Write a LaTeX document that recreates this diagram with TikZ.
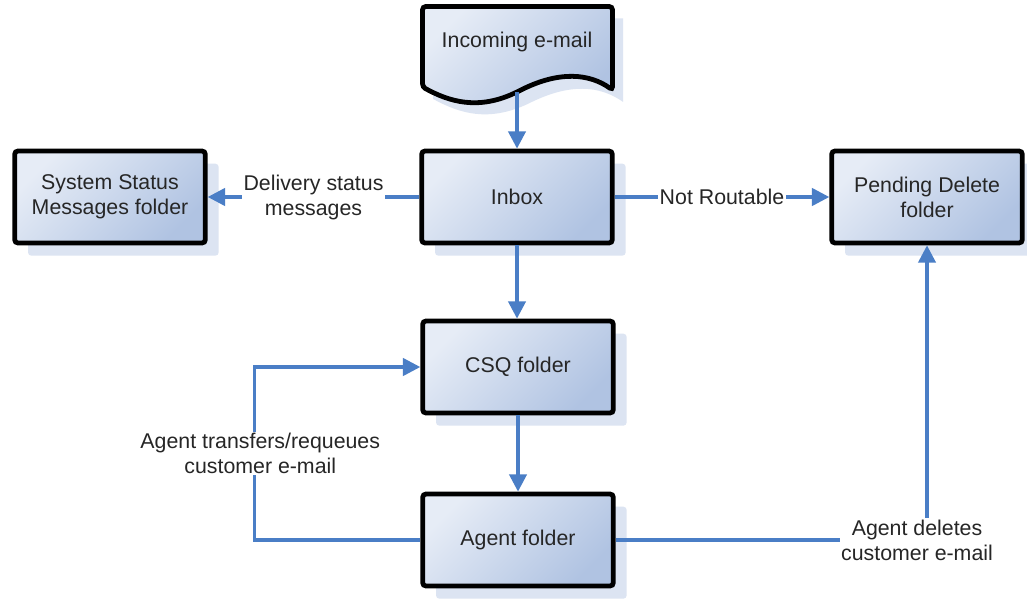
\documentclass[tikz,border=0pt]{standalone}
\usepackage{fontspec}
\setmainfont{Liberation Sans}
\usetikzlibrary{arrows.meta,shadows}
\definecolor{boxlight}{HTML}{E6ECF6}
\definecolor{boxdark}{HTML}{B0C3E2}
\definecolor{shadowc}{HTML}{DCE4F2}
\definecolor{arrowc}{HTML}{4A7EC6}
\definecolor{textc}{HTML}{262626}
\begin{document}
\begin{tikzpicture}[x=0.75pt,y=-0.75pt,
  txt/.style={font=\fontsize{16}{18.75}\selectfont, text=textc, align=center},
  fbox/.style={txt, draw=black, line width=3.6pt, rounded corners=2.5pt,
    minimum width=143pt, minimum height=69pt,
    top color=boxlight, bottom color=boxdark, shading angle=45,
    general shadow={shadow xshift=10pt, shadow yshift=-9.5pt, fill=shadowc, draw=none}},
  conn/.style={draw=arrowc, line width=2.5pt, -{Triangle[length=13pt,width=13pt]}},
  lbl/.style={txt, fill=white, inner sep=1pt}
]
\useasboundingbox (0,0) rectangle (1027,599);
\fill[white] (0,0) rectangle (1027,599);
% incoming e-mail document shape
\def\wavepath{(422.5,6.5) -- (612.5,6.5) -- (612.5,90) .. controls (590,74) and (560,70) .. (517,92) .. controls (478,110) and (450,102) .. (422.5,87) -- cycle}
\fill[shadowc, xshift=8pt, yshift=-9pt] \wavepath;
\draw[line width=3.6pt, top color=boxlight, bottom color=boxdark, shading angle=45, rounded corners=2.5pt] \wavepath;
\node[txt] (inc) at (517,42) {Incoming e-mail};
\coordinate (incb) at (517,92);

\node[fbox] (inbox) at (517,197) {Inbox};
\node[fbox] (sys) at (110,197) {System Status\\Messages folder};
\node[fbox] (pend) at (927,197) {Pending Delete\\folder};
\node[fbox] (csq) at (518,367) {CSQ folder};
\node[fbox] (agent) at (518,540) {Agent folder};

\draw[conn] (incb) -- (inbox);
\draw[conn] (inbox) -- node[lbl]{Delivery status\\messages} (sys);
\draw[conn] (inbox) -- node[lbl]{Not Routable} (pend);
\draw[conn] (inbox) -- (inbox |- csq.north);
\draw[conn] (csq) -- (agent);
\draw[conn] (agent.west) -- ++(-166,0) |- node[lbl,pos=0.25,xshift=4.5pt]{Agent transfers/requeues\\customer e-mail} (csq.west);
\draw[conn] (agent.east) -| node[lbl,pos=0.5,xshift=-7.5pt]{Agent deletes\\customer e-mail} (pend.south);
\end{tikzpicture}
\end{document}
